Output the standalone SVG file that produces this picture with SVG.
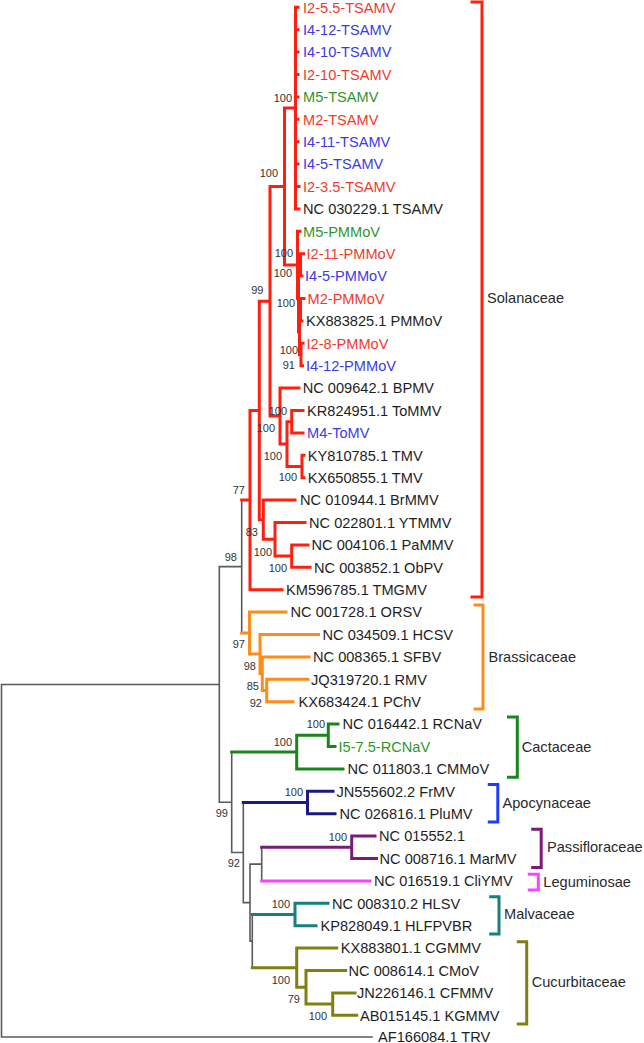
<svg xmlns="http://www.w3.org/2000/svg" width="644" height="1043" viewBox="0 0 644 1043">
<style>
text{font-family:"Liberation Sans",Arial,sans-serif}
.lab{font-size:14.6px;fill:#1e1e1e}
.fam{font-size:14.6px;fill:#2a2a2a}
.bs{font-size:11px;fill:#333;text-anchor:end}
.tr{fill:#f03a2c}.tb{fill:#3a3ae6}.tg{fill:#2e962e}
path{fill:none;stroke-linecap:square;stroke-linejoin:miter}
.g{stroke:#5a5a5a;stroke-width:1.6}
.r{stroke:#ff1f10;stroke-width:3}
.o{stroke:#ff8c1a;stroke-width:3}
.gr{stroke:#1a851a;stroke-width:3}
.nv{stroke:#1a1a80;stroke-width:3}
.pu{stroke:#7a1a7a;stroke-width:3}
.mg{stroke:#ff40ff;stroke-width:3}
.tl{stroke:#148080;stroke-width:3}
.ol{stroke:#808010;stroke-width:3}
.bl{stroke:#1f3cff;stroke-width:3}
</style>
<rect width="644" height="1043" fill="#fff"/>
<g id="connectors">
<path class="g" d="M1.5,684.5 V1037 M1.5,1037 H372 M1.5,684.5 H219.3 M219.3,566.6 V802.3 M219.3,566.6 H241.7 M219.3,802.3 H231.7 M241.7,500.1 V633.1 M231.7,752.1 V852.55 M231.7,852.55 H243.3 M243.3,802.5 V902.6 M243.3,902.6 H250 M250,864.1 V941.1 M250,864.1 H261.7 M250,941.1 H252.3 M261.7,847.3 V880.9 M252.3,914.5 V967.7"/>
<path class="r" d="M241.7,500.1 H250 M250,410.5 V589.7 M250,410.5 H259.3 M250,589.7 H282
M259.3,301.3 V519.7 M259.3,301.3 H270 M259.3,519.7 H263.3
M263.3,500.1 V539.3 M263.3,500.1 H295 M263.3,539.3 H275
M275,522.5 V556.1 M275,522.5 H305 M275,556.1 H291.7
M291.7,544.9 V567.3 M291.7,544.9 H308 M291.7,567.3 H310
M270,186.5 V416.1 M270,186.5 H284.5 M270,416.1 H280
M280,388.1 V444.1 M280,388.1 H299 M280,444.1 H287
M287,421.7 V466.5 M287,421.7 H291.7 M287,466.5 H302
M291.7,410.5 V432.9 M291.7,410.5 H303 M291.7,432.9 H303
M302,455.3 V477.7 M302,455.3 H304 M302,477.7 H304
M284.5,108.1 V264.9 M284.5,108.1 H295.5 M284.5,264.9 H297.5
M295.5,7.3 V208.9 M295.5,7.3 H298 M295.5,29.7 H298 M295.5,52.1 H298 M295.5,74.5 H298 M295.5,96.9 H298 M295.5,119.3 H298 M295.5,141.7 H298 M295.5,164.1 H298 M295.5,186.5 H299 M295.5,208.9 H299
M297.5,231.3 V298.5 M297.5,231.3 H300 M297.5,298.5 H298.5
M298.5,264.9 V332.1 M298.5,264.9 H300.5 M298.5,332.1 H299.5
M300.5,253.7 V276.1 M300.5,253.7 H303.5 M300.5,276.1 H302
M299.5,309.7 V354.5 M299.5,309.7 H300.5 M299.5,354.5 H301
M300.5,298.5 V320.9 M300.5,298.5 H304 M300.5,320.9 H302
M301,343.3 V365.7 M301,343.3 H303 M301,365.7 H302.5"/>
<path class="o" d="M241.7,633.1 H249.5 M249.5,612.1 V654.1 M249.5,612.1 H286 M249.5,654.1 H260
M260,634.5 V673.7 M260,634.5 H318.5 M260,673.7 H262.3
M262.3,656.9 V690.5 M262.3,656.9 H309 M262.3,690.5 H266.7
M266.7,679.3 V701.7 M266.7,679.3 H308 M266.7,701.7 H293"/>
<path class="gr" d="M231.7,752.1 H296.7 M296.7,735.3 V768.9 M296.7,735.3 H328.3 M296.7,768.9 H343 M328.3,724.1 V746.5 M328.3,724.1 H338 M328.3,746.5 H335"/>
<path class="nv" d="M243.3,802.5 H307.5 M307.5,791.3 V813.7 M307.5,791.3 H333 M307.5,813.7 H335"/>
<path class="pu" d="M261.7,847.3 H351.7 M351.7,836.1 V858.5 M351.7,836.1 H375 M351.7,858.5 H376.5"/>
<path class="mg" d="M261.7,880.9 H370"/>
<path class="tl" d="M252.3,914.5 H295 M295,903.3 V925.7 M295,903.3 H328 M295,925.7 H316"/>
<path class="ol" d="M252.3,967.7 H296.7 M296.7,948.1 V987.3 M296.7,948.1 H336.7 M296.7,987.3 H306 M306,970.5 V1004.1 M306,970.5 H345.7 M306,1004.1 H332.7 M332.7,992.9 V1015.3 M332.7,992.9 H355 M332.7,1015.3 H356.7"/>
</g>
<g id="bootstrap">
<text class="bs" x="292" y="102">100</text>
<text class="bs" x="278" y="177">100</text>
<text class="bs" x="263.5" y="294">99</text>
<text class="bs" x="293" y="257">100</text>
<text class="bs" x="292" y="277">100</text>
<text class="bs" x="295" y="307">100</text>
<text class="bs" x="298" y="354">100</text>
<text class="bs" x="295" y="369">91</text>
<text class="bs" x="287" y="415">100</text>
<text class="bs" x="275" y="432">100</text>
<text class="bs" x="282" y="460">100</text>
<text class="bs" x="297" y="481">100</text>
<text class="bs" x="245" y="494">77</text>
<text class="bs" x="258" y="536">83</text>
<text class="bs" x="272" y="556">100</text>
<text class="bs" x="287" y="572">100</text>
<text class="bs" x="237" y="561">98</text>
<text class="bs" x="245" y="648">97</text>
<text class="bs" x="256" y="670">98</text>
<text class="bs" x="259" y="690">85</text>
<text class="bs" x="262" y="707">92</text>
<text class="bs" x="325" y="728">100</text>
<text class="bs" x="292" y="746">100</text>
<text class="bs" x="303" y="796">100</text>
<text class="bs" x="228" y="817">99</text>
<text class="bs" x="347" y="841">100</text>
<text class="bs" x="240" y="867">92</text>
<text class="bs" x="290" y="908">100</text>
<text class="bs" x="290" y="984">100</text>
<text class="bs" x="300" y="1003">79</text>
<text class="bs" x="327" y="1020">100</text>
</g>
<g id="leaf-0"><text class="lab tr" x="303" y="12.5">I2-5.5-TSAMV</text></g>
<g id="leaf-1"><text class="lab tb" x="303" y="34.9">I4-12-TSAMV</text></g>
<g id="leaf-2"><text class="lab tb" x="303" y="57.3">I4-10-TSAMV</text></g>
<g id="leaf-3"><text class="lab tr" x="303" y="79.7">I2-10-TSAMV</text></g>
<g id="leaf-4"><text class="lab tg" x="303" y="102.1">M5-TSAMV</text></g>
<g id="leaf-5"><text class="lab tr" x="303" y="124.5">M2-TSAMV</text></g>
<g id="leaf-6"><text class="lab tb" x="303" y="146.9">I4-11-TSAMV</text></g>
<g id="leaf-7"><text class="lab tb" x="303" y="169.3">I4-5-TSAMV</text></g>
<g id="leaf-8"><text class="lab tr" x="303" y="191.7">I2-3.5-TSAMV</text></g>
<g id="leaf-9"><text class="lab" x="303" y="214.1">NC 030229.1 TSAMV</text></g>
<g id="leaf-10"><text class="lab tg" x="303" y="236.5">M5-PMMoV</text></g>
<g id="leaf-11"><text class="lab tr" x="306.5" y="258.9">I2-11-PMMoV</text></g>
<g id="leaf-12"><text class="lab tb" x="305" y="281.3">I4-5-PMMoV</text></g>
<g id="leaf-13"><text class="lab tr" x="307.5" y="303.7">M2-PMMoV</text></g>
<g id="leaf-14"><text class="lab" x="306" y="326.1">KX883825.1 PMMoV</text></g>
<g id="leaf-15"><text class="lab tr" x="306.5" y="348.5">I2-8-PMMoV</text></g>
<g id="leaf-16"><text class="lab tb" x="306" y="370.9">I4-12-PMMoV</text></g>
<g id="leaf-17"><text class="lab" x="302.7" y="393.3">NC 009642.1 BPMV</text></g>
<g id="leaf-18"><text class="lab" x="307" y="415.7">KR824951.1 ToMMV</text></g>
<g id="leaf-19"><text class="lab tb" x="307" y="438.1">M4-ToMV</text></g>
<g id="leaf-20"><text class="lab" x="307.7" y="460.5">KY810785.1 TMV</text></g>
<g id="leaf-21"><text class="lab" x="307.7" y="482.9">KX650855.1 TMV</text></g>
<g id="leaf-22"><text class="lab" x="300" y="505.3">NC 010944.1 BrMMV</text></g>
<g id="leaf-23"><text class="lab" x="309" y="527.7">NC 022801.1 YTMMV</text></g>
<g id="leaf-24"><text class="lab" x="311.5" y="550.1">NC 004106.1 PaMMV</text></g>
<g id="leaf-25"><text class="lab" x="314" y="572.5">NC 003852.1 ObPV</text></g>
<g id="leaf-26"><text class="lab" x="286" y="594.9">KM596785.1 TMGMV</text></g>
<g id="leaf-27"><text class="lab" x="290.5" y="617.3">NC 001728.1 ORSV</text></g>
<g id="leaf-28"><text class="lab" x="322.5" y="639.7">NC 034509.1 HCSV</text></g>
<g id="leaf-29"><text class="lab" x="313" y="662.1">NC 008365.1 SFBV</text></g>
<g id="leaf-30"><text class="lab" x="311" y="684.5">JQ319720.1 RMV</text></g>
<g id="leaf-31"><text class="lab" x="298.5" y="706.9">KX683424.1 PChV</text></g>
<g id="leaf-32"><text class="lab" x="342.5" y="729.3">NC 016442.1 RCNaV</text></g>
<g id="leaf-33"><text class="lab tg" x="338.5" y="751.7">I5-7.5-RCNaV</text></g>
<g id="leaf-34"><text class="lab" x="347.5" y="774.1">NC 011803.1 CMMoV</text></g>
<g id="leaf-35"><text class="lab" x="336.5" y="796.5">JN555602.2 FrMV</text></g>
<g id="leaf-36"><text class="lab" x="339.5" y="818.9">NC 026816.1 PluMV</text></g>
<g id="leaf-37"><text class="lab" x="379" y="841.3">NC 015552.1</text></g>
<g id="leaf-38"><text class="lab" x="379.5" y="863.7">NC 008716.1 MarMV</text></g>
<g id="leaf-39"><text class="lab" x="374" y="886.1">NC 016519.1 CliYMV</text></g>
<g id="leaf-40"><text class="lab" x="332" y="908.5">NC 008310.2 HLSV</text></g>
<g id="leaf-41"><text class="lab" x="320.5" y="930.9">KP828049.1 HLFPVBR</text></g>
<g id="leaf-42"><text class="lab" x="340.7" y="953.3">KX883801.1 CGMMV</text></g>
<g id="leaf-43"><text class="lab" x="348.5" y="975.7">NC 008614.1 CMoV</text></g>
<g id="leaf-44"><text class="lab" x="357" y="998.1">JN226146.1 CFMMV</text></g>
<g id="leaf-45"><text class="lab" x="360" y="1020.5">AB015145.1 KGMMV</text></g>
<g id="leaf-46"><text class="lab" x="378" y="1042">AF166084.1 TRV</text></g>
<g id="fam-solanaceae"><path class="r" d="M472,2 H482 V597 H472"/><text class="fam" x="487" y="303.2">Solanaceae</text></g>
<g id="fam-brassicaceae"><path class="o" d="M475,605 H483 V709 H475"/><text class="fam" x="488.5" y="661.9">Brassicaceae</text></g>
<g id="fam-cactaceae"><path class="gr" d="M508.5,717 H517.3 V777.3 H508.5"/><text class="fam" x="521.7" y="751.9">Cactaceae</text></g>
<g id="fam-apocynaceae"><path class="bl" d="M489.3,784.5 H497.8 V822 H489.3"/><text class="fam" x="502.5" y="807.9">Apocynaceae</text></g>
<g id="fam-passifloraceae"><path class="pu" d="M532.7,829.3 H541.2 V867.5 H532.7"/><text class="fam" x="547" y="852.2">Passifloraceae</text></g>
<g id="fam-leguminosae"><path class="mg" d="M529.3,874.3 H538.3 V890 H529.3"/><text class="fam" x="543.3" y="886.5">Leguminosae</text></g>
<g id="fam-malvaceae"><path class="tl" d="M490.7,896.7 H499 V934 H490.7"/><text class="fam" x="504" y="919.2">Malvaceae</text></g>
<g id="fam-cucurbitaceae"><path class="ol" d="M518.3,941.7 H526.7 V1024 H518.3"/><text class="fam" x="531.7" y="986.9">Cucurbitaceae</text></g>
</svg>
